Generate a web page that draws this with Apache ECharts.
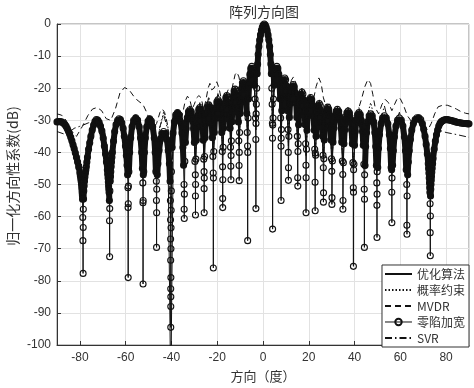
<!DOCTYPE html>
<html><head><meta charset="utf-8">
<script src="https://cdn.jsdelivr.net/npm/echarts@6/dist/echarts.min.js"></script>
<style>html,body{margin:0;padding:0;background:#fff}#c{width:474px;height:388px}</style>
</head><body><div id="c"></div>
<script>
const seriesNames = ['优化算法', '概率约束', 'MVDR', '零陷加宽', 'SVR'];
const titleText = '阵列方向图';
const xAxisName = '方向（度）';
const yAxisName = '归一化方向性系数(dB)';

// shared angle grid (nulls / shoulders / peaks) for the thin-line methods
const lobeAngles = [
  -90, -86, -82.5, -78.6,
  -76.3, -72.8, -69.3, -67.0,
  -65.4, -62.95, -60.5, -58.9,
  -57.6, -55.65, -53.7, -52.4,
  -51.2, -49.45, -47.7, -46.5,
  -45.26, -43.4, -41.54, -40.3,
  -39.12, -37.35, -35.58, -34.4,
  -33.42, -31.95, -30.48, -29.5,
  -28.74, -27.6, -26.46, -25.7,
  -24.9, -23.7, -22.5, -21.7,
  -20.88, -19.65, -18.42, -17.6,
  -16.88, -15.8, -14.72, -14.0,
  -13.28, -12.2, -11.12, -10.4,
  -9.66, -8.55, -7.44, -6.7,
  -5.98, -4.9, -3.82, -3.1,
  -2.5, -1.5, -0.5, 0.55, 1.6, 2.6, 3.6, 4.2,
  4.94, 6.05, 7.16, 7.9,
  8.54, 9.5, 10.46, 11.1,
  11.92, 13.15, 14.38, 15.2,
  15.92, 17.0, 18.08, 18.8,
  19.6, 20.8, 22.0, 22.8,
  23.52, 24.6, 25.68, 26.4,
  27.14, 28.25, 29.36, 30.1,
  31.06, 32.5, 33.94, 34.9,
  35.82, 37.2, 38.58, 39.5,
  40.46, 41.9, 43.34, 44.3,
  45.4, 47.05, 48.7, 49.8,
  51.1, 53.05, 55.0, 56.3,
  57.62, 59.6, 61.58, 62.9,
  64.94, 68.0, 71.06, 73.1,
  76.5, 80, 85, 90
];

const optDb = [
  -30.5, -31.5, -38.8, -48,
  -39, -29.8, -37.5, -48,
  -36.5, -29.5, -35, -47,
  -33.5, -29.2, -34, -46,
  -33.8, -29.5, -34, -46,
  -37.8, -33.5, -37.8, -115,
  -32.2, -27.6, -32.2, -44,
  -31.3, -26.7, -31.3, -43,
  -30.6, -26, -30.6, -43,
  -29.8, -25.2, -29.8, -42,
  -28.2, -23.6, -28.2, -41,
  -26.9, -22.3, -26.9, -40,
  -24.9, -20.3, -24.9, -38,
  -22.3, -17.7, -22.3, -36,
  -17.8, -13.2, -17.8, -33,
  -14.5, -5.1, -1.2, 0, -1.2, -5.1, -14.5, -33,
  -17.8, -13.2, -17.8, -36,
  -21.4, -16.8, -21.4, -38,
  -23.5, -18.9, -23.5, -39,
  -25.8, -21.2, -25.8, -41,
  -27.5, -22.9, -27.5, -42,
  -29.4, -24.8, -29.4, -43,
  -30.5, -25.9, -30.5, -44,
  -31.2, -26.6, -31.2, -44,
  -31.7, -27.1, -31.7, -45,
  -32.2, -27.6, -32.2, -45,
  -32.6, -28, -32.6, -46,
  -33.2, -28.6, -33.2, -46,
  -33.9, -29.3, -33.9, -47,
  -33.3, -29.2, -35, -50,
  -32.5, -29.8, -30.6, -31.1
];

const probDb = [
  -30, -31, -38, -45,
  -37, -29.5, -36, -45,
  -37, -29, -35, -44,
  -34, -28.8, -34, -44,
  -33, -28.5, -33, -44,
  -33, -27.3, -32, -60,
  -31, -27.5, -31, -42,
  -29, -25.5, -29.5, -41,
  -29, -25.3, -29, -40,
  -28, -23.5, -28, -40,
  -26, -21.5, -26.5, -39,
  -26, -21.5, -26, -38,
  -24, -19.8, -24, -37,
  -22, -17.3, -22, -35,
  -17.5, -13, -17.5, -32,
  -14.3, -5, -1.2, 0, -1.2, -5, -14.3, -32,
  -17.5, -13, -17.5, -35,
  -21, -16.5, -21, -37,
  -22.5, -18, -22.5, -38,
  -25, -20.5, -25, -40,
  -26.5, -22, -26.5, -41,
  -27.5, -23.5, -28.5, -42,
  -29.5, -25, -29.5, -43,
  -30, -25.8, -30.5, -43,
  -30.5, -26.3, -31, -44,
  -31, -26.8, -31, -44,
  -29, -24.5, -29.5, -45,
  -32.5, -28, -33, -45,
  -33, -28.5, -33, -46,
  -34, -28.5, -35, -48,
  -32, -29.5, -30.3, -30.8
];

const svrDb = [
  -33.5, -34.5, -32.5, -31.5,
  -30.8, -30.2, -33, -44,
  -36, -29.5, -34, -44,
  -33.5, -29, -33.5, -44,
  -33, -28.8, -33.5, -44,
  -32.5, -28.3, -33, -60,
  -31.5, -27.8, -31, -42,
  -29.5, -25.5, -29.5, -41,
  -28.5, -24.5, -29, -40,
  -27, -22.5, -27.5, -40,
  -26, -21.5, -26, -39,
  -25.5, -21.5, -25.5, -38,
  -23.5, -19.5, -24, -37,
  -21.5, -17, -22, -35,
  -17.5, -13, -17.5, -32,
  -14.3, -5, -1.2, 0, -1.2, -5, -14.3, -32,
  -17.5, -13, -17.5, -35,
  -21, -16.5, -21, -37,
  -23, -18.3, -23, -38,
  -24.5, -20, -24.5, -40,
  -26.5, -22, -26.5, -41,
  -28, -24, -28.5, -42,
  -29.5, -25.2, -29.5, -43,
  -30, -26, -30.5, -43,
  -30.5, -25.5, -31, -44,
  -30.5, -26, -31, -44,
  -31.5, -27.5, -32, -45,
  -30.5, -25.5, -31.5, -45,
  -31.5, -27.5, -33, -46,
  -33.5, -29.5, -33.5, -45,
  -33, -33.8, -34.5, -35.3
];

// MVDR (dashed) [angle, dB]
const mvdrPts = [
  [-90,-28],[-88,-28.4],[-86,-30],[-84,-33],[-81.5,-35],[-79,-32],[-76.5,-28.5],[-74.5,-26.5],[-72.5,-26],[-70.5,-27],
  [-68.5,-29.5],[-66.5,-30],[-64.5,-26.5],[-62.5,-21.5],[-60.5,-19.8],[-58.5,-20.5],[-56.5,-22.5],[-54.5,-24],[-52.5,-25],[-50.5,-28],
  [-48.5,-33],[-46.5,-31],[-45,-27.5],[-44,-26.5],[-43,-27.5],[-41.8,-31],[-40.3,-40],[-39,-31],[-38,-28.5],[-37,-28.5],
  [-36,-30],[-35,-27.5],[-34,-24],[-33,-22.5],[-32,-23.5],[-31,-26.5],[-30,-25],[-29,-23],[-28,-22.3],[-27,-23],
  [-26,-26.5],[-25,-24],[-24,-20],[-23.2,-18.5],[-22.4,-20.5],[-21.4,-20],[-20.2,-18],[-19.2,-20],[-18.2,-23.5],[-17.2,-26],
  [-16.2,-22],[-15.2,-20.5],[-14.2,-22.5],[-13.2,-19],[-12.2,-15.8],[-11.4,-15],[-10.5,-16.5],[-9.5,-20.5],[-8.5,-19.5],[-7.5,-17.5],
  [-6.5,-18.5],[-5.5,-15.5],[-4.5,-12.8],[-3.6,-14.5],[-3,-20],[-2.5,-14.5],[-1.5,-5.1],[-0.5,-1.2],[0.55,0],[1.6,-1.2],
  [2.6,-5.1],[3.6,-14.5],[4.2,-20],[4.9,-14.5],[5.9,-13.3],[6.9,-15],[7.9,-19],[8.8,-18],[9.7,-17.5],[10.6,-20],
  [11.5,-20.5],[12.4,-17.5],[13.3,-16.5],[14.2,-18],[15.2,-21.5],[16.2,-21.5],[17.2,-22],[18.2,-23.5],[19.2,-22.5],[20.2,-22],
  [21.2,-24],[22.2,-23],[23.2,-19.5],[24.4,-16.8],[25.4,-18.5],[26.4,-23],[27.5,-25.5],[29,-25],[30.5,-26],[32,-27],
  [33.5,-27.5],[35,-28.5],[36.5,-27],[38,-27.5],[40,-29],[41.5,-27],[43,-23.5],[44.5,-19.5],[45.8,-17.3],[47,-18.5],
  [48,-22],[49,-26],[50.5,-28],[52,-25],[53.4,-23.5],[54.8,-24.5],[56.3,-27],[57.5,-25],[58.8,-23],[60,-23.3],
  [61.5,-25.5],[63,-28.5],[65,-30.5],[67.5,-30],[70,-31.5],[72,-33],[73.5,-31],[75,-28],[76.5,-25.8],[78.5,-25.3],
  [80.5,-25.3],[82.5,-25.8],[84.5,-26.5],[86.5,-27.3],[88.5,-27.8],[90,-28]
];

// 零陷加宽 (circle markers) [angle, dB]
const nullWidenPts = [
  [-90,-30.5],[-89.5,-30.45],[-89,-30.4],[-88.5,-30.45],[-88,-30.5],[-87.5,-30.7],[-87,-31],[-86.5,-31.4],[-86,-31.9],[-85.5,-32.6],
  [-85,-33.4],[-84.5,-34.3],[-84,-35.3],[-83.5,-36.4],[-83,-37.6],[-82.5,-38.8],[-82,-40.1],[-81.5,-41.5],[-81,-43],[-80.5,-44.6],
  [-80,-46.4],[-79.8,-47.3],[-79.6,-48.2],[-79.45,-49],[-79.3,-49.9],[-79.17,-51],[-79.05,-52],[-78.97,-52.8],[-78.9,-53.5],
  [-78.85,-54.6],[-78.75,-60.3],[-78.68,-67.5],[-78.6,-77.7],[-78.55,-63.4],[-78.5,-57.7],
  [-78.4,-54.5],[-78.3,-52],[-78.15,-50.5],[-78,-49],[-77.8,-47.7],[-77.6,-46.5],[-77.4,-45.5],[-77.2,-44.5],[-76.95,-43],[-76.7,-41.5],
  [-76.2,-39],[-75.7,-37],[-75.2,-35],[-74.6,-33],[-74,-31.5],
  [-73.4,-30.3],[-72.8,-29.8],[-72.2,-29.9],[-71.6,-30.6],[-71,-31.8],[-70.4,-33.3],[-69.8,-35.5],[-69.3,-38],[-68.8,-40.5],[-68.4,-43],
  [-68,-45.5],[-67.85,-46.8],[-67.7,-48],[-67.57,-49.2],[-67.45,-50.5],[-67.35,-51.5],[-67.25,-52.5],
  [-67.12,-55],[-67.05,-61.3],[-67,-72.5],[-66.96,-57.5],[-66.9,-52],
  [-66.75,-49],[-66.62,-47.5],[-66.5,-46],[-66.35,-44.5],[-66.2,-43],[-66,-41.5],[-65.8,-40],[-65.3,-36.5],[-64.8,-33.5],[-64.2,-31.3],
  [-63.5,-30],[-62.9,-29.5],[-62.3,-29.8],
  [-61.7,-30.8],[-61.1,-32.5],[-60.6,-35],[-60.1,-38],[-59.7,-41],[-59.4,-44],[-59.15,-47],
  [-59,-51],[-58.95,-57.2],[-58.9,-79],[-58.86,-56],[-58.8,-50.5],
  [-58.6,-46],[-58.25,-40],[-57.8,-35.5],[-57.2,-32],[-56.5,-30],[-55.6,-29.2],[-54.8,-29.9],[-54.1,-32],[-53.5,-35.5],[-53,-40],[-52.7,-45],
  [-52.5,-49.5],[-52.44,-55.7],[-52.4,-81],[-52.36,-55],[-52.3,-47],
  [-52.1,-46],[-51.8,-40],[-51.4,-35.5],[-50.8,-32],[-50.2,-30.2],[-49.5,-29.5],[-48.8,-30.2],[-48.2,-32],[-47.5,-35.5],[-47.1,-40],[-46.8,-46],
  [-46.6,-49],[-46.55,-55],[-46.5,-69.6],[-46.46,-58.8],[-46.42,-51.5],
  [-46.2,-47],[-45.9,-43.5],[-45.4,-39.4],[-44.8,-36],[-44.1,-34.1],[-43.4,-33.5],[-42.7,-34.1],[-42,-36],[-41.4,-39.4],[-40.9,-43.5],[-40.6,-49],
  [-40.45,-55],[-40.4,-61],[-40.36,-67],[-40.33,-73.6],[-40.31,-82.5],[-40.3,-94.5],[-40.29,-88],[-40.27,-85],[-40.25,-79],[-40.22,-70],[-40.18,-63.5],[-40.12,-58],[-40.05,-52],
  [-40,-46],[-39.7,-38.5],[-39.3,-34],[-38.7,-30.5],[-38.1,-28.3],[-37.35,-27.6],[-36.6,-28.3],[-36,-30.5],[-35.4,-34],[-35,-38.5],[-34.7,-44],
  [-34.5,-50],[-34.44,-57.7],[-34.4,-60.6],[-34.35,-53],
  [-34.15,-42.8],[-33.9,-36.9],[-33.57,-32.6],[-33.08,-29.2],[-32.54,-27.3],[-31.95,-26.7],[-31.36,-27.3],[-30.82,-29.2],[-30.33,-32.6],[-29.99,-36.9],[-29.75,-42.8],
  [-29.56,-47],[-29.52,-53.6],[-29.5,-59.5],[-29.46,-50],
  [-29.31,-42.1],[-29.12,-36.2],[-28.85,-31.9],[-28.47,-28.5],[-28.06,-26.6],[-27.6,-26],[-27.14,-26.6],[-26.73,-28.5],[-26.35,-31.9],[-26.08,-36.2],[-25.89,-42.1],
  [-25.75,-46],[-25.72,-51.3],[-25.7,-58.8],[-25.66,-48],
  [-25.5,-41.3],[-25.3,-35.4],[-25.02,-31.1],[-24.62,-27.7],[-24.18,-25.8],[-23.7,-25.2],[-23.22,-25.8],[-22.78,-27.7],[-22.38,-31.1],[-22.1,-35.4],[-21.9,-41.3],
  [-21.75,-46.4],[-21.7,-76],[-21.66,-48],
  [-21.5,-39.7],[-21.29,-33.8],[-21,-29.5],[-20.59,-26.1],[-20.14,-24.2],[-19.65,-23.6],[-19.16,-24.2],[-18.71,-26.1],[-18.3,-29.5],[-18.01,-33.8],[-17.8,-39.7],
  [-17.66,-44.5],[-17.62,-54.4],[-17.6,-57.2],[-17.56,-48.5],
  [-17.42,-38.4],[-17.24,-32.5],[-16.99,-28.2],[-16.63,-24.8],[-16.23,-22.9],[-15.8,-22.3],[-15.37,-22.9],[-14.97,-24.8],[-14.61,-28.2],[-14.36,-32.5],[-14.18,-38.4],
  [-14.06,-44.3],[-14,-48.5],[-13.95,-41],
  [-13.82,-36.4],[-13.64,-30.5],[-13.39,-26.2],[-13.03,-22.8],[-12.63,-20.9],[-12.2,-20.3],[-11.77,-20.9],[-11.37,-22.8],[-11.01,-26.2],[-10.76,-30.5],[-10.58,-36.4],
  [-10.45,-44.1],[-10.4,-48.8],[-10.36,-40],
  [-10.22,-33.8],[-10.03,-27.9],[-9.77,-23.6],[-9.4,-20.2],[-8.99,-18.3],[-8.55,-17.7],[-8.11,-18.3],[-7.7,-20.2],[-7.33,-23.6],[-7.07,-27.9],[-6.89,-33.8],
  [-6.74,-38],[-6.7,-67.5],[-6.66,-40],
  [-6.52,-29.3],[-6.34,-23.4],[-6.09,-19.1],[-5.73,-15.7],[-5.33,-13.8],[-4.9,-13.2],[-4.47,-13.8],[-4.07,-15.7],[-3.71,-19.1],[-3.46,-23.4],[-3.28,-29.3],
  [-3.14,-36],[-3.1,-57.5],[-3.06,-31],
  [-3,-28],[-2.9,-25],[-2.75,-20],[-2.55,-15.5],[-2.35,-12.5],[-2.1,-9.5],[-1.8,-7],[-1.45,-5],[-1.1,-3.4],[-0.7,-2],
  [-0.3,-1],[0.1,-0.3],[0.55,0],[1,-0.3],[1.4,-1],[1.8,-2],[2.2,-3.4],[2.55,-5],[2.9,-7],[3.2,-9.5],
  [3.45,-12.5],[3.65,-15.5],[3.85,-20],[4,-25],[4.1,-30.9],
  [4.15,-35.6],[4.2,-63.9],[4.25,-31.5],
  [4.39,-29.3],[4.57,-23.4],[4.83,-19.1],[5.2,-15.7],[5.61,-13.8],[6.05,-13.2],[6.49,-13.8],[6.9,-15.7],[7.27,-19.1],[7.53,-23.4],[7.72,-29.3],
  [7.86,-38.1],[7.9,-55],[7.94,-35.6],
  [8.06,-32.9],[8.22,-27],[8.44,-22.7],[8.76,-19.3],[9.12,-17.4],[9.5,-16.8],[9.88,-17.4],[10.24,-19.3],[10.56,-22.7],[10.78,-27],[10.94,-32.9],
  [11.06,-40],[11.1,-48.7],[11.14,-44.8],
  [11.31,-35],[11.51,-29.1],[11.8,-24.8],[12.21,-21.4],[12.66,-19.5],[13.15,-18.9],[13.64,-19.5],[14.09,-21.4],[14.5,-24.8],[14.79,-29.1],[15,-35],
  [15.15,-47.9],[15.2,-50.5],[15.25,-39.7],
  [15.38,-37.3],[15.56,-31.4],[15.81,-27.1],[16.17,-23.7],[16.57,-21.8],[17,-21.2],[17.43,-21.8],[17.83,-23.7],[18.19,-27.1],[18.44,-31.4],[18.62,-37.3],
  [18.76,-44],[18.8,-58.8],[18.84,-47.9],
  [19,-39],[19.2,-33.1],[19.48,-28.8],[19.88,-25.4],[20.32,-23.5],[20.8,-22.9],[21.28,-23.5],[21.72,-25.4],[22.12,-28.8],[22.4,-33.1],[22.6,-39],
  [22.75,-49.3],[22.8,-58.2],[22.85,-40.2],
  [22.98,-40.9],[23.16,-35],[23.41,-30.7],[23.77,-27.3],[24.17,-25.4],[24.6,-24.8],[25.03,-25.4],[25.43,-27.3],[25.79,-30.7],[26.04,-35],[26.22,-40.9],
  [26.35,-44.8],[26.4,-55.5],[26.45,-52.6],
  [26.59,-42],[26.77,-36.1],[27.03,-31.8],[27.4,-28.4],[27.81,-26.5],[28.25,-25.9],[28.69,-26.5],[29.1,-28.4],[29.47,-31.8],[29.73,-36.1],[29.92,-42],
  [30.05,-45.9],[30.1,-56.2],[30.15,-54.1],
  [30.34,-42.7],[30.58,-36.8],[30.92,-32.5],[31.4,-29.1],[31.92,-27.2],[32.5,-26.6],[33.08,-27.2],[33.6,-29.1],[34.08,-32.5],[34.42,-36.8],[34.66,-42.7],
  [34.85,-46.9],[34.9,-57.7],[34.95,-55],
  [35.13,-43.2],[35.36,-37.3],[35.68,-33],[36.14,-29.6],[36.65,-27.7],[37.2,-27.1],[37.75,-27.7],[38.26,-29.6],[38.72,-33],[39.04,-37.3],[39.27,-43.2],
  [39.45,-51],[39.5,-75.5],[39.54,-52.4],[39.58,-45.4],
  [39.74,-43.7],[39.98,-37.8],[40.32,-33.5],[40.8,-30.1],[41.32,-28.2],[41.9,-27.6],[42.48,-28.2],[43,-30.1],[43.48,-33.5],[43.82,-37.8],[44.06,-43.7],
  [44.24,-51.5],[44.3,-69.6],[44.35,-54.6],[44.4,-47],
  [44.58,-44.1],[44.85,-38.2],[45.24,-33.9],[45.79,-30.5],[46.39,-28.6],[47.05,-28],[47.71,-28.6],[48.32,-30.5],[48.87,-33.9],[49.25,-38.2],[49.53,-44.1],
  [49.72,-49.5],[49.76,-56.5],[49.8,-66.5],[49.84,-53],[49.88,-46],
  [50.13,-44.7],[50.45,-38.8],[50.91,-34.5],[51.56,-31.1],[52.27,-29.2],[53.05,-28.6],[53.83,-29.2],[54.55,-31.1],[55.2,-34.5],[55.65,-38.8],[55.98,-44.7],
  [56.2,-45.4],[56.26,-52.4],[56.3,-61.9],[56.36,-48],
  [56.63,-44],[56.96,-39.5],[57.42,-35.2],[58.08,-31.8],[58.81,-29.9],[59.6,-29.3],[60.39,-29.9],[61.12,-31.8],[61.78,-35.2],[62.24,-39.5],[62.57,-45.4],
  [62.8,-50],[62.86,-62.7],[62.9,-65.5],[62.95,-53.6],
  [63.2,-47],[63.5,-43],[63.9,-39.5],[64.4,-36],[65,-33],[65.7,-31],[66.5,-29.8],[67.3,-29.2],[68.1,-29.2],[68.9,-29.8],
  [69.6,-31],[70.2,-32.8],[70.8,-35],[71.3,-37.5],[71.8,-40.5],[72.2,-43.5],[72.35,-45],[72.5,-46.5],[72.62,-48],[72.75,-49.5],[72.84,-51],[72.92,-52.5],
  [73,-56],[73.05,-65],[73.1,-72.2],[73.14,-59.8],[73.2,-53.6],
  [73.3,-51.5],[73.4,-50],[73.5,-48.7],[73.6,-47.5],[73.75,-46.2],[73.9,-45],[74.1,-43.5],[74.3,-42],[74.8,-39],[75.3,-36.5],[75.8,-34.5],[76.3,-33],[76.8,-31.8],[77.3,-31],
  [77.8,-30.5],[78.3,-30.2],[78.8,-30],[79.4,-29.85],[80,-29.8],[80.6,-29.8],[81.2,-29.9],[81.8,-30],[82.4,-30.1],[83,-30.2],
  [83.6,-30.35],[84.2,-30.5],[84.8,-30.6],[85.4,-30.7],[86,-30.8],[86.6,-30.85],[87.2,-30.9],[87.8,-31],[88.4,-31],[89,-31.05],
  [89.5,-31.1],[90,-31.1]
];

const pair = (xs, ys) => xs.map((x, i) => [x, ys[i]]);
const INK = '#111';
const CJK = '"Noto Sans CJK SC", "Noto Sans", sans-serif';
const LAT = '"Liberation Sans", Arial, sans-serif';

// dense upper part of each lobe of the marker curve (where the circles merge into a solid band)
const WIN = 1.8, DROP = 15;
const nullWidenUpper = nullWidenPts.map(([x, y]) => {
  let m = -Infinity;
  for (const [x2, y2] of nullWidenPts) if (Math.abs(x2 - x) <= WIN && y2 > m) m = y2;
  return y >= m - DROP ? [x, y] : [x, null];
});

const lineBase = (name, data, type) => ({
  name, type: 'line', data, symbol: 'none', clip: true, silent: true,
  lineStyle: { color: INK, width: 1, type },
  itemStyle: { color: INK },
  emphasis: { disabled: true }, z: 3
});

const legendData = seriesNames.map((n, i) => i === 3
  ? { name: n, lineStyle: { width: 1 } }
  : { name: n, itemStyle: { opacity: 0 } });

const chart = echarts.init(document.getElementById('c'), null, { renderer: 'canvas', width: 474, height: 388 });
chart.setOption({
  animation: false,
  backgroundColor: '#fff',
  grid: { left: 57, right: 5, top: 24, bottom: 41, show: true, borderColor: '#8a8a8a', borderWidth: 1, backgroundColor: 'transparent' },
  xAxis: {
    type: 'value', min: -90, max: 90, splitNumber: 9,
    name: xAxisName, nameLocation: 'middle', nameGap: 25,
    nameTextStyle: { fontSize: 13, color: '#333', fontFamily: CJK },
    axisLine: { onZero: false, lineStyle: { color: '#333' } },
    axisTick: { inside: true, length: 4, lineStyle: { color: '#333' } },
    axisLabel: { color: '#333', fontSize: 12, margin: 7, fontFamily: LAT, showMinLabel: false, showMaxLabel: false },
    splitLine: { show: true, lineStyle: { color: '#e2e2e2', width: 1 } }
  },
  yAxis: {
    type: 'value', min: -100, max: 0, interval: 10,
    axisLine: { show: true, onZero: false, lineStyle: { color: '#333' } },
    axisTick: { show: true, inside: true, length: 4, lineStyle: { color: '#333' } },
    axisLabel: { color: '#333', fontSize: 12, margin: 6, fontFamily: LAT },
    splitLine: { show: true, lineStyle: { color: '#e2e2e2', width: 1 } }
  },
  legend: {
    data: legendData, orient: 'vertical', right: 5, bottom: 41,
    itemWidth: 27, itemHeight: 8, itemGap: 4, padding: [3, 4, 3, 2],
    borderColor: '#333', borderWidth: 1, borderRadius: 0, backgroundColor: '#fff',
    textStyle: { fontSize: 12, color: '#333', fontFamily: CJK, lineHeight: 12 }, z: 20, selectedMode: false
  },
  graphic: [
    { type: 'text', x: 264, y: 12, z: 30, style: { text: titleText, fill: '#333', font: '14px ' + CJK, textAlign: 'center', textVerticalAlign: 'middle' } },
    { type: 'text', x: 13, y: 176, rotation: Math.PI / 2, z: 30, style: { text: yAxisName, fill: '#333', font: '14px ' + CJK, textAlign: 'center', textVerticalAlign: 'middle' } }
  ],
  series: [
    lineBase(seriesNames[0], pair(lobeAngles, optDb), 'solid'),
    lineBase(seriesNames[1], pair(lobeAngles, probDb), [1.5, 2]),
    lineBase(seriesNames[2], mvdrPts, [6, 4]),
    {
      name: 'band', type: 'line', data: nullWidenUpper, clip: true, silent: true,
      symbol: 'none', connectNulls: false,
      lineStyle: { color: INK, width: 6, cap: 'round', join: 'round' },
      emphasis: { disabled: true }, z: 4
    },
    {
      name: seriesNames[3], type: 'line', data: nullWidenPts, clip: true, silent: true,
      symbol: 'circle', symbolSize: 6, showSymbol: true, showAllSymbol: true,
      itemStyle: { color: 'rgba(0,0,0,0)', borderColor: INK, borderWidth: 1.1 },
      lineStyle: { color: INK, width: 1 },
      emphasis: { disabled: true }, z: 4
    },
    lineBase(seriesNames[4], pair(lobeAngles, svrDb), [7, 3, 1.5, 3])
  ]
});
</script>
</body></html>
